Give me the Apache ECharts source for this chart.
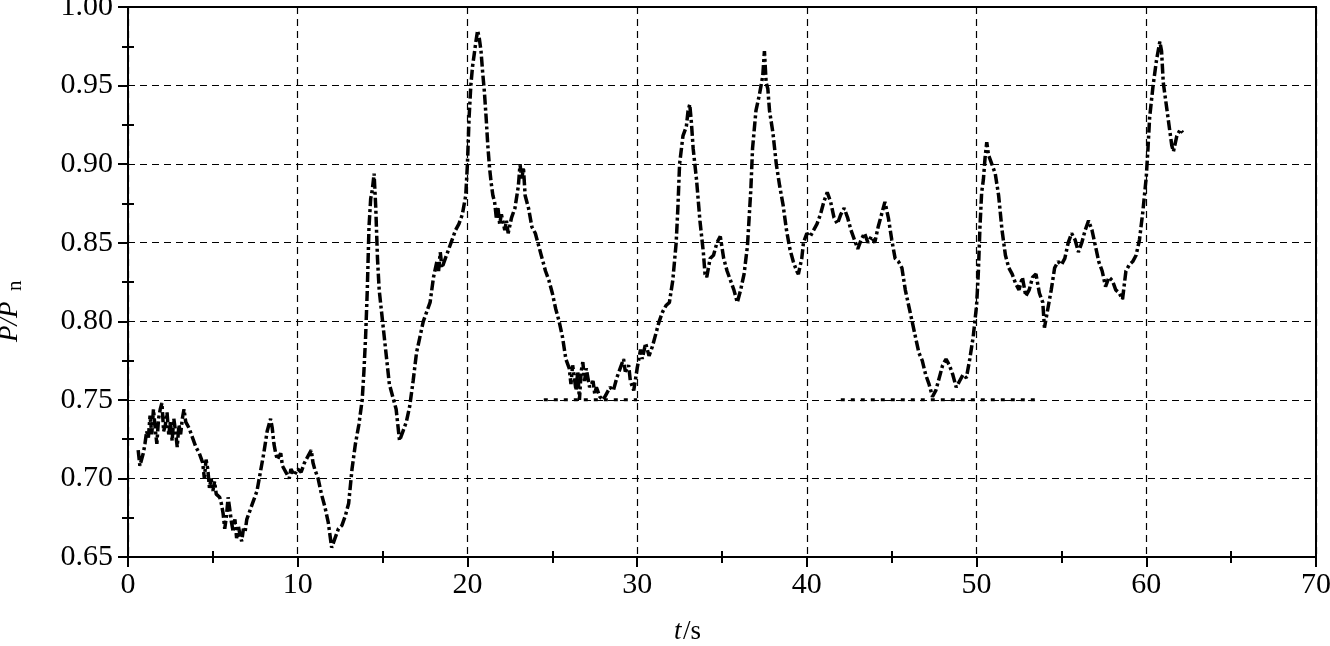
<!DOCTYPE html>
<html>
<head>
<meta charset="utf-8">
<script src="https://cdn.jsdelivr.net/npm/echarts@6/dist/echarts.min.js"></script>
<style>
html,body{margin:0;padding:0;background:#fff;}
#chart{width:1330px;height:646px;}
</style>
</head>
<body>
<div id="chart"></div>
<script>
// time (s)
var tValues = [
0.6,0.7,0.8,0.9,1.0,1.1,1.2,1.3,1.4,1.5,1.6,1.7,1.8,1.9,2.0,2.1,2.2,2.3,2.4,2.5,2.6,2.7,2.8,2.9,3.0,3.1,3.2,3.3,3.4,3.6,3.8,4.0,4.2,4.4,4.5,4.6,4.7,4.8,4.9,5.0,5.1,5.2,5.4,5.5,5.6,5.7,5.8,5.9,6.0,6.1,6.2,6.3,6.4,6.5,6.6,6.7,6.8,6.9,7.0,7.2,7.4,7.6,7.8,8.0,8.2,8.4,8.5,8.6,8.7,8.8,9.0,9.1,9.3,9.5,9.6,9.8,10.0,10.2,10.4,10.6,10.8,10.9,11.0,11.2,11.4,11.6,11.8,11.9,12.0,12.2,12.4,12.6,12.8,13.0,13.2,13.4,13.6,13.8,13.9,14.0,14.1,14.2,14.3,14.4,14.5,14.6,14.7,14.8,15.0,15.2,15.4,15.6,15.8,16.0,16.2,16.4,16.6,16.8,17.0,17.2,17.4,17.6,17.8,18.0,18.2,18.3,18.4,18.5,18.7,18.9,19.1,19.3,19.5,19.7,19.9,20.0,20.1,20.2,20.3,20.4,20.5,20.6,20.7,20.8,20.9,21.0,21.1,21.2,21.3,21.4,21.5,21.6,21.7,21.8,21.9,22.0,22.2,22.3,22.4,22.6,22.8,23.0,23.1,23.2,23.3,23.4,23.6,23.8,24.0,24.2,24.4,24.6,24.8,25.0,25.2,25.4,25.6,25.8,26.0,26.1,26.2,26.3,26.4,26.5,26.6,26.7,26.8,26.9,27.0,27.2,27.4,27.5,27.6,27.8,28.0,28.2,28.4,28.6,28.8,29.0,29.2,29.3,29.5,29.6,29.8,30.0,30.2,30.3,30.5,30.7,30.9,31.1,31.3,31.5,31.7,31.9,32.1,32.3,32.4,32.5,32.7,32.9,33.0,33.1,33.2,33.3,33.5,33.7,33.9,34.0,34.1,34.3,34.5,34.7,34.9,35.1,35.3,35.5,35.7,35.9,36.1,36.3,36.5,36.6,36.7,36.8,37.0,37.2,37.3,37.4,37.5,37.6,37.7,37.8,38.0,38.2,38.4,38.6,38.8,39.0,39.2,39.4,39.5,39.7,39.8,40.0,40.2,40.4,40.6,40.8,41.0,41.2,41.4,41.6,41.8,42.0,42.2,42.4,42.6,42.8,43.0,43.2,43.4,43.6,43.8,44.0,44.2,44.4,44.6,44.8,45.0,45.2,45.4,45.6,45.8,46.0,46.2,46.4,46.6,46.8,47.0,47.2,47.4,47.6,47.8,48.0,48.2,48.4,48.6,48.8,49.0,49.2,49.4,49.6,49.8,50.0,50.1,50.2,50.3,50.4,50.5,50.6,50.7,50.9,51.1,51.3,51.5,51.7,51.9,52.1,52.3,52.5,52.7,52.9,53.1,53.3,53.5,53.7,53.9,54.0,54.2,54.4,54.6,54.8,55.0,55.2,55.4,55.6,55.8,56.0,56.2,56.4,56.6,56.8,57.0,57.2,57.4,57.6,57.8,58.0,58.2,58.4,58.6,58.8,59.0,59.2,59.4,59.6,59.8,60.0,60.1,60.2,60.4,60.6,60.8,60.9,61.0,61.2,61.4,61.5,61.6,61.8,62.0,62.15
];
// P/Pn values
var pValues = [
0.718,0.708,0.712,0.716,0.722,0.730,0.726,0.740,0.728,0.744,0.732,0.722,0.738,0.744,0.748,0.730,0.734,0.742,0.728,0.736,0.724,0.738,0.730,0.720,0.734,0.728,0.738,0.744,0.736,0.732,0.726,0.720,0.716,0.710,0.700,0.712,0.706,0.694,0.700,0.692,0.698,0.690,0.688,0.684,0.678,0.668,0.676,0.688,0.680,0.672,0.666,0.674,0.662,0.670,0.664,0.660,0.668,0.666,0.674,0.680,0.686,0.692,0.704,0.716,0.730,0.738,0.732,0.722,0.716,0.712,0.716,0.708,0.704,0.700,0.706,0.702,0.706,0.704,0.710,0.714,0.718,0.710,0.706,0.700,0.690,0.682,0.672,0.664,0.656,0.662,0.668,0.670,0.676,0.684,0.706,0.722,0.734,0.750,0.768,0.790,0.820,0.860,0.878,0.884,0.894,0.872,0.840,0.820,0.800,0.780,0.760,0.752,0.744,0.724,0.730,0.736,0.746,0.762,0.780,0.790,0.800,0.806,0.812,0.828,0.838,0.832,0.844,0.834,0.840,0.846,0.852,0.858,0.862,0.868,0.880,0.900,0.930,0.950,0.962,0.970,0.978,0.985,0.980,0.972,0.958,0.946,0.930,0.912,0.898,0.888,0.880,0.876,0.866,0.872,0.862,0.868,0.858,0.864,0.856,0.866,0.872,0.886,0.900,0.890,0.898,0.880,0.872,0.860,0.856,0.848,0.840,0.832,0.826,0.818,0.808,0.800,0.790,0.776,0.770,0.760,0.772,0.764,0.756,0.768,0.750,0.768,0.774,0.762,0.770,0.758,0.762,0.754,0.758,0.752,0.750,0.754,0.758,0.756,0.764,0.770,0.776,0.768,0.772,0.762,0.756,0.770,0.782,0.776,0.786,0.778,0.784,0.792,0.800,0.806,0.810,0.812,0.826,0.850,0.872,0.900,0.918,0.924,0.934,0.938,0.926,0.910,0.890,0.864,0.844,0.830,0.828,0.840,0.842,0.850,0.854,0.840,0.832,0.826,0.820,0.812,0.820,0.830,0.848,0.866,0.884,0.910,0.934,0.944,0.950,0.956,0.972,0.952,0.948,0.934,0.920,0.900,0.886,0.874,0.858,0.846,0.838,0.832,0.830,0.840,0.850,0.856,0.854,0.858,0.862,0.868,0.876,0.882,0.876,0.866,0.862,0.868,0.872,0.866,0.858,0.852,0.846,0.852,0.856,0.850,0.854,0.850,0.860,0.868,0.876,0.866,0.852,0.840,0.838,0.834,0.820,0.810,0.800,0.790,0.780,0.775,0.766,0.760,0.752,0.756,0.764,0.772,0.776,0.772,0.766,0.758,0.762,0.766,0.764,0.776,0.790,0.810,0.830,0.860,0.882,0.890,0.904,0.914,0.906,0.900,0.894,0.880,0.858,0.842,0.834,0.830,0.824,0.820,0.828,0.816,0.820,0.828,0.830,0.818,0.812,0.796,0.808,0.820,0.834,0.838,0.836,0.840,0.850,0.856,0.852,0.844,0.850,0.858,0.864,0.858,0.848,0.838,0.832,0.822,0.828,0.826,0.820,0.818,0.814,0.832,0.836,0.838,0.842,0.852,0.870,0.892,0.910,0.930,0.950,0.966,0.978,0.972,0.952,0.936,0.920,0.912,0.908,0.918,0.922,0.920
];
// dotted lower-limit segments at 0.75
var limitT = [24.5, 30.0, null, 42.0, 53.6];
var limitP = [0.75, 0.75, null, 0.75, 0.75];

var xTicks = [0,10,20,30,40,50,60,70];
var yTicks = [0.65,0.70,0.75,0.80,0.85,0.90,0.95,1.00];
var xMinorTicks = [5,15,25,35,45,55,65];
var yMinorTicks = [0.675,0.725,0.775,0.825,0.875,0.925,0.975];

var mainData = tValues.map(function(t,i){return [t,pValues[i]];});
var limitData = limitT.map(function(t,i){return t===null ? [null,null] : [t,limitP[i]];});

var serif = '"Liberation Serif","DejaVu Serif",serif';
var chart = echarts.init(document.getElementById('chart'));
chart.setOption({
  animation:false,
  backgroundColor:'#fff',
  grid:{left:128,right:14,top:7,bottom:89,show:true,borderColor:'#000',borderWidth:2,
    backgroundColor:'transparent',containLabel:false,outerBoundsMode:'none'},
  xAxis:[{
    type:'value',min:0,max:70,interval:10,
    axisLine:{show:true,lineStyle:{color:'#000',width:2}},
    axisTick:{show:true,length:10,lineStyle:{color:'#000',width:2}},
    minorTick:{show:true,splitNumber:2,length:6,lineStyle:{color:'#000',width:2}},
    axisLabel:{color:'#000',fontFamily:serif,fontSize:30,margin:13,
      customValues:xTicks,formatter:function(v){return String(v);}},
    splitLine:{show:true,lineStyle:{color:'#000',width:1.2,type:[7,5]}}
  },{
    type:'value',min:0,max:70,interval:10,position:'bottom',
    axisLine:{show:false},
    axisTick:{show:true,inside:true,length:6,customValues:xMinorTicks,lineStyle:{color:'#000',width:2}},
    axisLabel:{show:false},splitLine:{show:false}
  }],
  yAxis:[{
    type:'value',min:0.65,max:1.0,interval:0.05,
    axisLine:{show:true,lineStyle:{color:'#000',width:2}},
    axisTick:{show:true,length:10,lineStyle:{color:'#000',width:2}},
    minorTick:{show:true,splitNumber:2,length:6,lineStyle:{color:'#000',width:2}},
    axisLabel:{color:'#000',fontFamily:serif,fontSize:30,margin:15,
      customValues:yTicks,formatter:function(v){return v.toFixed(2);}},
    splitLine:{show:true,lineStyle:{color:'#000',width:1.2,type:[7,5]}}
  },{
    type:'value',min:0.65,max:1.0,interval:0.05,position:'left',
    axisLine:{show:false},
    axisTick:{show:true,inside:true,length:6,customValues:yMinorTicks,lineStyle:{color:'#000',width:2}},
    axisLabel:{show:false},splitLine:{show:false}
  }],
  series:[{
    type:'line',data:mainData,showSymbol:false,
    lineStyle:{color:'#000',width:3.5,type:[10,3,3,3]},
    z:3
  },{
    type:'line',data:limitData,showSymbol:false,connectNulls:false,
    lineStyle:{color:'#000',width:3,type:[4,6]},
    z:3
  }],
  graphic:[
    {type:'group',x:24,y:312,rotation:Math.PI/2,children:[
      {type:'text',x:-30,y:-14,style:{text:'P/P',font:'italic 27px '+serif,fill:'#000',textAlign:'left',textVerticalAlign:'middle'}},
      {type:'text',x:21,y:-9,style:{text:'n',font:'21px '+serif,fill:'#000',textAlign:'left',textVerticalAlign:'middle'}}
    ]},
    {type:'text',left:674,top:618,style:{text:'t',font:'italic 27px '+serif,fill:'#000'}},
    {type:'text',left:683,top:618,style:{text:'/s',font:'27px '+serif,fill:'#000'}}
  ]
});
</script>
</body>
</html>
